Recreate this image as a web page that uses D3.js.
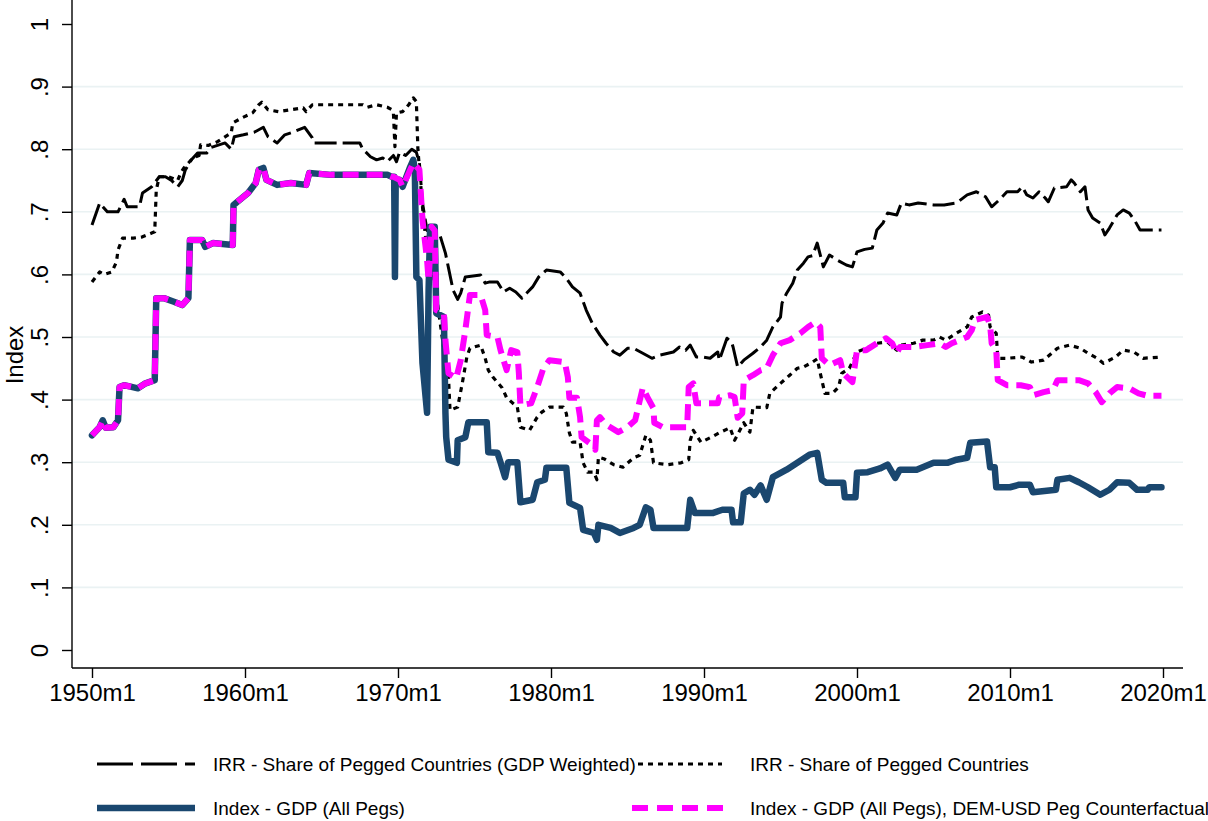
<!DOCTYPE html>
<html>
<head>
<meta charset="utf-8">
<script src="https://cdnjs.cloudflare.com/ajax/libs/d3/7.8.5/d3.min.js"></script>
<style>
  body { margin: 0; background: #fff; }
  svg { display: block; font-family: "Liberation Sans", Arial, sans-serif; }
</style>
</head>
<body>
<svg id="grafico" width="1208" height="821"></svg>
<script>
// IRR - share of pegged countries, GDP weighted  [year, value]
var irrGdp = [[1950.0,.679],[1950.5,.714],[1951.0,.70],[1951.7,.70],[1952.1,.72],[1952.3,.708],[1953.1,.708],[1953.3,.73],[1953.9,.74],[1954.4,.756],[1954.8,.756],[1955.2,.75],[1955.6,.74],[1955.9,.75],[1956.1,.767],[1956.5,.783],[1956.9,.794],[1957.5,.794],[1957.8,.803],[1958.7,.81],[1959.1,.80],[1959.3,.82],[1959.9,.823],[1960.6,.827],[1961.2,.835],[1961.5,.82],[1962.1,.81],[1962.6,.823],[1963.1,.827],[1963.9,.835],[1964.4,.818],[1964.5,.81],[1966.2,.81],[1967.5,.81],[1967.7,.80],[1968.2,.788],[1968.6,.783],[1969.0,.786],[1969.3,.78],[1969.7,.79],[1969.9,.78],[1970.1,.795],[1970.5,.79],[1970.9,.80],[1971.2,.795],[1971.4,.778],[1971.6,.714],[1971.9,.67],[1972.7,.666],[1972.9,.65],[1973.1,.634],[1973.6,.575],[1973.9,.56],[1974.1,.57],[1974.4,.596],[1975.4,.599],[1975.7,.586],[1976.0,.588],[1976.5,.588],[1976.9,.572],[1977.3,.578],[1977.7,.572],[1978.1,.562],[1978.4,.57],[1978.8,.58],[1979.2,.596],[1979.7,.607],[1980.6,.604],[1981.0,.594],[1981.4,.58],[1981.9,.57],[1982.3,.543],[1982.7,.522],[1983.2,.503],[1983.6,.49],[1984.1,.476],[1984.5,.471],[1985.0,.482],[1985.4,.482],[1986.0,.474],[1986.6,.466],[1987.1,.471],[1988.0,.476],[1988.4,.484],[1988.8,.479],[1989.1,.487],[1989.5,.468],[1989.9,.468],[1990.4,.466],[1990.9,.476],[1991.0,.463],[1991.5,.498],[1991.8,.492],[1991.9,.484],[1992.2,.452],[1992.6,.463],[1993.2,.474],[1993.7,.484],[1994.1,.495],[1994.5,.516],[1995.0,.532],[1995.1,.554],[1995.4,.57],[1995.8,.586],[1996.1,.607],[1996.5,.618],[1996.8,.628],[1997.1,.63],[1997.4,.65],[1997.8,.612],[1998.2,.631],[1998.7,.623],[1999.3,.615],[1999.7,.612],[2000.0,.636],[2000.5,.64],[2001.0,.642],[2001.3,.671],[2001.7,.682],[2002.0,.698],[2002.6,.695],[2002.9,.714],[2003.4,.711],[2004.0,.714],[2005.0,.711],[2005.7,.711],[2006.5,.714],[2007.2,.727],[2007.8,.732],[2008.4,.724],[2008.8,.708],[2009.3,.719],[2009.8,.732],[2010.5,.732],[2010.8,.74],[2011.1,.727],[2011.5,.722],[2011.9,.732],[2012.3,.722],[2012.5,.716],[2012.9,.738],[2013.7,.74],[2014.0,.751],[2014.2,.746],[2014.6,.732],[2014.9,.74],[2015.1,.703],[2015.4,.69],[2015.9,.682],[2016.2,.663],[2016.5,.674],[2017.0,.695],[2017.4,.703],[2017.8,.698],[2018.2,.684],[2018.5,.671],[2019.9,.671]];

// IRR - share of pegged countries (simple count)
var irrShare = [[1950.0,.588],[1950.5,.604],[1950.8,.60],[1951.3,.604],[1951.6,.62],[1951.7,.639],[1952.0,.658],[1952.7,.658],[1953.3,.66],[1953.9,.666],[1954.1,.668],[1954.2,.735],[1954.4,.756],[1955.0,.756],[1955.6,.75],[1955.8,.762],[1956.0,.77],[1956.3,.778],[1956.6,.786],[1957.0,.79],[1957.1,.807],[1957.6,.806],[1958.2,.812],[1959.1,.826],[1959.2,.842],[1959.8,.85],[1960.5,.858],[1960.9,.871],[1961.1,.875],[1961.5,.863],[1962.2,.86],[1963.0,.863],[1963.8,.866],[1964.0,.86],[1964.4,.871],[1965.4,.871],[1967.0,.871],[1967.7,.871],[1968.0,.867],[1968.6,.871],[1969.3,.867],[1969.6,.863],[1969.7,.858],[1969.8,.804],[1969.9,.858],[1970.3,.86],[1970.7,.871],[1971.0,.882],[1971.2,.876],[1971.3,.80],[1971.6,.708],[1971.8,.66],[1972.2,.62],[1972.6,.55],[1973.0,.48],[1973.3,.436],[1973.4,.383],[1973.9,.388],[1974.2,.426],[1974.5,.468],[1974.7,.482],[1975.4,.487],[1975.7,.466],[1975.9,.447],[1976.2,.436],[1976.8,.419],[1977.1,.403],[1977.8,.388],[1978.0,.356],[1978.6,.351],[1979.1,.372],[1979.4,.38],[1979.9,.388],[1980.8,.388],[1981.0,.378],[1981.2,.347],[1981.4,.332],[1981.9,.332],[1982.1,.299],[1982.4,.284],[1982.8,.284],[1983.0,.272],[1983.1,.308],[1983.5,.305],[1984.1,.296],[1984.7,.292],[1985.4,.307],[1985.8,.311],[1986.2,.343],[1986.5,.335],[1986.7,.299],[1987.6,.296],[1988.5,.299],[1989.0,.304],[1989.1,.335],[1989.3,.351],[1989.8,.332],[1990.4,.339],[1991.0,.347],[1991.7,.355],[1992.0,.335],[1992.6,.363],[1993.0,.348],[1993.2,.388],[1994.1,.387],[1994.3,.41],[1995.0,.426],[1995.6,.439],[1996.1,.45],[1996.5,.452],[1997.1,.46],[1997.4,.465],[1997.6,.442],[1997.9,.41],[1998.4,.41],[1998.8,.42],[1999.0,.442],[1999.5,.45],[2000.0,.476],[2000.6,.482],[2001.3,.49],[2002.0,.492],[2002.6,.479],[2002.8,.487],[2003.7,.49],[2004.3,.495],[2005.0,.495],[2005.4,.50],[2005.8,.495],[2006.5,.506],[2007.2,.516],[2007.5,.532],[2008.2,.54],[2008.6,.535],[2008.7,.516],[2009.1,.506],[2009.2,.466],[2009.8,.466],[2010.8,.468],[2011.4,.46],[2012.2,.463],[2013.1,.482],[2013.9,.487],[2014.6,.482],[2015.1,.474],[2015.7,.466],[2016.1,.458],[2016.9,.468],[2017.4,.479],[2018.1,.476],[2018.7,.466],[2019.9,.468]];

// Index - GDP (all pegs)
var idxGdp = [[1950.0,.343],[1950.5,.356],[1950.7,.367],[1950.9,.355],[1951.4,.356],[1951.7,.367],[1951.8,.42],[1952.1,.423],[1953.0,.418],[1953.5,.426],[1954.1,.431],[1954.2,.562],[1954.7,.562],[1955.4,.556],[1955.9,.551],[1956.3,.562],[1956.4,.655],[1957.2,.655],[1957.4,.644],[1957.9,.65],[1959.2,.647],[1959.25,.711],[1959.8,.722],[1960.2,.73],[1960.7,.746],[1960.9,.767],[1961.2,.77],[1961.4,.751],[1962.1,.743],[1963.0,.746],[1964.0,.743],[1964.2,.762],[1965.6,.759],[1967.7,.759],[1969.3,.759],[1969.6,.756],[1969.75,.756],[1969.8,.596],[1969.85,.751],[1970.1,.751],[1970.3,.74],[1970.8,.772],[1971.0,.783],[1971.1,.767],[1971.2,.596],[1971.4,.591],[1971.6,.458],[1971.9,.379],[1972.0,.575],[1972.1,.676],[1972.4,.676],[1972.5,.538],[1973.0,.532],[1973.1,.379],[1973.15,.34],[1973.3,.304],[1973.85,.299],[1973.9,.335],[1974.4,.34],[1974.6,.364],[1975.8,.364],[1975.9,.316],[1976.5,.315],[1976.7,.30],[1977.0,.276],[1977.2,.30],[1977.8,.30],[1978.0,.236],[1978.8,.24],[1979.1,.268],[1979.6,.272],[1979.7,.291],[1981.0,.291],[1981.2,.235],[1981.9,.227],[1982.1,.192],[1982.8,.187],[1983.0,.176],[1983.1,.20],[1983.9,.195],[1984.5,.187],[1985.4,.195],[1985.8,.20],[1986.2,.228],[1986.5,.224],[1986.7,.195],[1988.9,.195],[1989.1,.24],[1989.4,.219],[1990.6,.219],[1991.2,.224],[1991.8,.224],[1991.9,.204],[1992.4,.204],[1992.6,.25],[1993.0,.256],[1993.3,.248],[1993.7,.263],[1994.1,.24],[1994.5,.276],[1995.4,.288],[1996.1,.299],[1996.9,.312],[1997.4,.315],[1997.7,.272],[1998.0,.267],[1999.1,.267],[1999.2,.244],[1999.9,.244],[2000.0,.283],[2000.7,.284],[2001.5,.29],[2002.0,.296],[2002.5,.275],[2002.8,.288],[2003.9,.288],[2005.0,.299],[2005.9,.299],[2006.5,.304],[2007.2,.307],[2007.4,.331],[2008.5,.333],[2008.7,.292],[2009.0,.292],[2009.1,.26],[2010.0,.26],[2010.6,.264],[2011.3,.264],[2011.5,.252],[2013.0,.256],[2013.1,.272],[2013.9,.275],[2014.5,.268],[2015.1,.26],[2015.9,.248],[2016.5,.256],[2017.0,.268],[2017.8,.267],[2018.3,.256],[2019.0,.256],[2019.1,.26],[2019.9,.26]];

// counterfactual: identical to idxGdp until 1969m8, then these values
var idxCfPost = [[1969.7,.756],[1970.1,.751],[1970.3,.74],[1970.8,.767],[1971.0,.778],[1971.4,.767],[1971.6,.687],[1971.9,.623],[1972.0,.59],[1972.2,.676],[1972.4,.67],[1972.5,.543],[1973.0,.538],[1973.1,.495],[1973.3,.442],[1973.8,.434],[1974.1,.463],[1974.4,.511],[1974.7,.567],[1975.4,.567],[1975.7,.543],[1975.8,.503],[1976.5,.50],[1976.7,.479],[1977.1,.447],[1977.4,.479],[1977.8,.476],[1977.9,.442],[1978.0,.391],[1978.7,.394],[1979.1,.42],[1979.5,.45],[1979.9,.463],[1980.9,.46],[1981.1,.436],[1981.2,.403],[1981.7,.403],[1981.9,.372],[1982.0,.34],[1982.5,.331],[1982.9,.32],[1983.0,.367],[1983.2,.372],[1983.6,.36],[1984.4,.348],[1985.0,.356],[1985.5,.367],[1986.0,.419],[1986.3,.404],[1986.7,.386],[1986.75,.363],[1987.3,.356],[1988.9,.356],[1989.0,.42],[1989.3,.426],[1989.5,.394],[1990.9,.394],[1991.0,.404],[1991.7,.407],[1992.0,.404],[1992.2,.371],[1992.5,.378],[1992.6,.431],[1993.2,.439],[1993.7,.447],[1994.1,.45],[1994.5,.471],[1995.0,.49],[1995.6,.495],[1996.3,.506],[1996.8,.516],[1997.3,.524],[1997.6,.516],[1997.7,.466],[1998.2,.455],[1998.9,.463],[1999.1,.442],[1999.7,.428],[1999.8,.444],[2000.0,.479],[2000.6,.479],[2001.3,.49],[2001.9,.498],[2002.3,.49],[2002.6,.474],[2002.8,.484],[2003.7,.484],[2004.6,.487],[2005.4,.49],[2005.8,.484],[2006.2,.49],[2007.2,.50],[2007.5,.511],[2007.7,.527],[2008.5,.532],[2008.7,.519],[2008.8,.49],[2009.1,.479],[2009.2,.431],[2009.8,.423],[2010.7,.423],[2011.3,.42],[2011.5,.407],[2012.2,.412],[2012.8,.415],[2013.1,.431],[2014.5,.431],[2015.1,.426],[2015.6,.412],[2016.0,.396],[2016.5,.41],[2017.0,.42],[2017.8,.418],[2018.4,.41],[2019.0,.406],[2019.9,.406]];
var idxCf = idxGdp.filter(function(d){ return d[0] < 1969.7; }).concat(idxCfPost);

var xTicks = [1950, 1960, 1970, 1980, 1990, 2000, 2010, 2020];
var yTicks = [0, .1, .2, .3, .4, .5, .6, .7, .8, .9, 1];
var yLabels = ["0", ".1", ".2", ".3", ".4", ".5", ".6", ".7", ".8", ".9", "1"];

var series = [
  {name: "IRR - Share of Pegged Countries (GDP Weighted)", data: irrGdp, color: "#000", w: 3, dash: "22,6", key: "36,8"},
  {name: "IRR - Share of Pegged Countries", data: irrShare, color: "#000", w: 3.2, dash: "5,5", key: "5,5"},
  {name: "Index - GDP (All Pegs)", data: idxGdp, color: "#1a476f", w: 6.5, dash: null, key: null},
  {name: "Index - GDP (All Pegs), DEM-USD Peg Counterfactual", data: idxCf, color: "#ff00ff", w: 6, dash: "16,8", key: "16,9"}
];

var svg = d3.select("#grafico");

// plot region
var left = 72, right = 1183, axisY = 668;
var x = d3.scaleLinear().domain([1950, 2020]).range([92, 1163]);
var y = d3.scaleLinear().domain([0, 1]).range([650, 24]);

// gridlines
svg.append("g")
  .selectAll("line")
  .data(yTicks.filter(function(t){ return t > 0 && t < 1; }))
  .enter()
  .append("line")
    .attr("x1", left).attr("x2", right)
    .attr("y1", function(d){ return y(d); })
    .attr("y2", function(d){ return y(d); })
    .attr("stroke", "#eaf2f3")
    .attr("stroke-width", 1.6);

// axes
var yAxis = svg.append("g")
  .attr("transform", "translate(" + left + ",0)")
  .call(d3.axisLeft(y).tickValues(yTicks).tickSize(10)
        .tickFormat(function(d, i){ return yLabels[i]; }));
yAxis.select(".domain").attr("d", "M0,0V" + axisY).attr("stroke-width", 1.4);
yAxis.selectAll(".tick line").attr("stroke-width", 1.4);
// rotated labels, reading upward
yAxis.selectAll(".tick text")
  .attr("font-size", 24)
  .attr("font-family", "Liberation Sans, Arial, sans-serif")
  .attr("fill", "#000")
  .attr("x", 0).attr("y", 0)
  .attr("transform", "translate(-32,0) rotate(-90)")
  .attr("dy", "0.35em")
  .attr("text-anchor", "middle");

var xAxis = svg.append("g")
  .attr("transform", "translate(0," + axisY + ")")
  .call(d3.axisBottom(x).tickValues(xTicks).tickSize(10).tickPadding(6)
        .tickFormat(function(d){ return d + "m1"; }));
xAxis.select(".domain").attr("d", "M" + left + ",0H" + right).attr("stroke-width", 1.4);
xAxis.selectAll(".tick line").attr("stroke-width", 1.4);
xAxis.selectAll(".tick text")
  .attr("font-size", 24)
  .attr("font-family", "Liberation Sans, Arial, sans-serif")
  .attr("fill", "#000");

// axis title
svg.append("text")
  .attr("transform", "translate(23,355) rotate(-90)")
  .attr("text-anchor", "middle")
  .attr("font-size", 24)
  .text("Index");

// lines
var line = d3.line()
  .x(function(d){ return x(d[0]); })
  .y(function(d){ return y(d[1]); });

for (var s = 0; s < series.length; s++) {
  svg.append("path")
    .datum(series[s].data)
    .attr("d", line)
    .attr("fill", "none")
    .attr("stroke", series[s].color)
    .attr("stroke-width", series[s].w)
    .attr("stroke-linejoin", "round")
    .attr("stroke-linecap", series[s].dash ? "butt" : "round")
    .attr("stroke-dasharray", series[s].dash);
}

// legend, 2 columns
var legPos = [[97, 764], [638, 764], [97, 808], [632, 808]];
var keyLen = [98, 84, 98, 100];
var textX = [213, 750, 213, 750];
var leg = svg.append("g");
series.forEach(function(d, i){
  leg.append("line")
    .attr("x1", legPos[i][0]).attr("x2", legPos[i][0] + keyLen[i])
    .attr("y1", legPos[i][1]).attr("y2", legPos[i][1])
    .attr("stroke", d.color)
    .attr("stroke-width", d.w)
    .attr("stroke-dasharray", d.key);
  leg.append("text")
    .attr("x", textX[i]).attr("y", legPos[i][1])
    .attr("dy", "0.35em")
    .attr("font-size", 19)
    .text(d.name);
});
</script>
</body>
</html>
